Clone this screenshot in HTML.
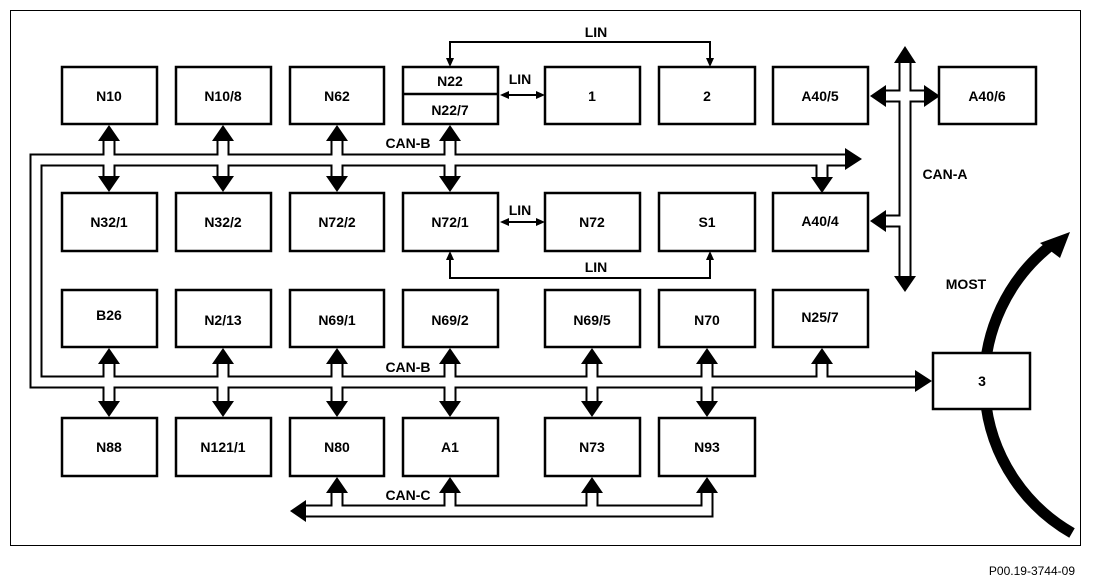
<!DOCTYPE html>
<html><head><meta charset="utf-8"><style>
html,body{margin:0;padding:0;background:#fff;}
svg{display:block;}
text{font-family:"Liberation Sans",Arial,sans-serif;font-weight:bold;font-size:14px;}
</style></head><body>
<svg width="1093" height="585" viewBox="0 0 1093 585" xmlns="http://www.w3.org/2000/svg">
<rect x="10.5" y="10.5" width="1070" height="535" fill="#fff" stroke="#000" stroke-width="1"/>
<!-- MOST arc -->
<path d="M1072 533 A174 174 0 0 1 1050 246" fill="none" stroke="#000" stroke-width="11"/>
<polygon points="1070,232 1040,243 1060,258" fill="#000"/>
<!-- boxes -->
<g fill="#fff" stroke="#000" stroke-width="2.5">
<rect x="62" y="67" width="95" height="57"/><rect x="176" y="67" width="95" height="57"/>
<rect x="290" y="67" width="94" height="57"/><rect x="403" y="67" width="95" height="57"/>
<rect x="545" y="67" width="95" height="57"/><rect x="659" y="67" width="96" height="57"/>
<rect x="773" y="67" width="95" height="57"/><rect x="939" y="67" width="97" height="57"/>
<rect x="62" y="193" width="95" height="58"/><rect x="176" y="193" width="95" height="58"/>
<rect x="290" y="193" width="94" height="58"/><rect x="403" y="193" width="95" height="58"/>
<rect x="545" y="193" width="95" height="58"/><rect x="659" y="193" width="96" height="58"/>
<rect x="773" y="193" width="95" height="58"/>
<rect x="62" y="290" width="95" height="57"/><rect x="176" y="290" width="95" height="57"/>
<rect x="290" y="290" width="94" height="57"/><rect x="403" y="290" width="95" height="57"/>
<rect x="545" y="290" width="95" height="57"/><rect x="659" y="290" width="96" height="57"/>
<rect x="773" y="290" width="95" height="57"/>
<rect x="62" y="418" width="95" height="58"/><rect x="176" y="418" width="95" height="58"/>
<rect x="290" y="418" width="94" height="58"/><rect x="403" y="418" width="95" height="58"/>
<rect x="545" y="418" width="95" height="58"/><rect x="659" y="418" width="96" height="58"/>
<rect x="933" y="353" width="97" height="56"/>
</g>
<line x1="403" y1="94" x2="498" y2="94" stroke="#000" stroke-width="2.5"/>
<!-- buses: black then white -->
<g fill="none" stroke="#000" stroke-width="13" stroke-linejoin="miter" stroke-linecap="butt">
<path d="M845 160 H36 V382 H918"/>
<path d="M109 138 V180 M223 138 V180 M337 138 V180 M450 138 V180"/>
<path d="M109 362 V404 M223 362 V404 M337 362 V404 M450 362 V404 M592 362 V404 M707 362 V404 M822 362 V382"/>
<path d="M822 160 V180"/>
<path d="M305 511 H707 V490 M337 490 V511 M450 490 V511 M592 490 V511"/>
<path d="M905 62 V278 M885 96 H925 M885 221 H905"/>
</g>
<g fill="none" stroke="#fff" stroke-width="9" stroke-linejoin="miter" stroke-linecap="butt">
<path d="M846 160 H36 V382 H919"/>
<path d="M109 136 V182 M223 136 V182 M337 136 V182 M450 136 V182"/>
<path d="M109 360 V406 M223 360 V406 M337 360 V406 M450 360 V406 M592 360 V406 M707 360 V406 M822 360 V382"/>
<path d="M822 160 V182"/>
<path d="M302 511 H707 V488 M337 488 V511 M450 488 V511 M592 488 V511"/>
<path d="M905 60 V280 M883 96 H927 M883 221 H905"/>
</g>
<!-- arrowheads -->
<g fill="#000">
<polygon points="862,159 845,148 845,170"/>
<polygon points="932,381 915,370 915,392"/>
<polygon points="822,193 811,177 833,177"/>
<polygon points="290,511 306,500 306,522"/>
<polygon points="905,46 894,63 916,63"/>
<polygon points="905,292 894,276 916,276"/>
<polygon points="870,96 886,85 886,107"/>
<polygon points="940,96 924,85 924,107"/>
<polygon points="870,221 886,210 886,232"/>
<polygon points="109,125 98,141 120,141"/><polygon points="109,192 98,176 120,176"/>
<polygon points="223,125 212,141 234,141"/><polygon points="223,192 212,176 234,176"/>
<polygon points="337,125 326,141 348,141"/><polygon points="337,192 326,176 348,176"/>
<polygon points="450,125 439,141 461,141"/><polygon points="450,192 439,176 461,176"/>
<polygon points="109,348 98,364 120,364"/><polygon points="109,417 98,401 120,401"/>
<polygon points="223,348 212,364 234,364"/><polygon points="223,417 212,401 234,401"/>
<polygon points="337,348 326,364 348,364"/><polygon points="337,417 326,401 348,401"/>
<polygon points="450,348 439,364 461,364"/><polygon points="450,417 439,401 461,401"/>
<polygon points="592,348 581,364 603,364"/><polygon points="592,417 581,401 603,401"/>
<polygon points="707,348 696,364 718,364"/><polygon points="707,417 696,401 718,401"/>
<polygon points="822,348 811,364 833,364"/>
<polygon points="337,477 326,493 348,493"/>
<polygon points="450,477 439,493 461,493"/>
<polygon points="592,477 581,493 603,493"/>
<polygon points="707,477 696,493 718,493"/>
</g>
<!-- LIN lines -->
<g fill="none" stroke="#000" stroke-width="2">
<path d="M450 60 V42 H710 V60"/>
<path d="M450 258 V278 H710 V258"/>
<path d="M507 95 H538 M507 222 H538"/>
</g>
<g fill="#000">
<polygon points="450,67 446,58 454,58"/><polygon points="710,67 706,58 714,58"/>
<polygon points="450,251 446,260 454,260"/><polygon points="710,251 706,260 714,260"/>
<polygon points="500,95 509,91 509,99"/><polygon points="545,95 536,91 536,99"/>
<polygon points="500,222 509,218 509,226"/><polygon points="545,222 536,218 536,226"/>
</g>
<g text-anchor="middle">
<text x="109" y="101">N10</text><text x="223" y="101">N10/8</text><text x="337" y="101">N62</text>
<text x="450" y="86">N22</text><text x="450" y="115">N22/7</text>
<text x="592" y="101">1</text><text x="707" y="101">2</text><text x="820" y="101">A40/5</text><text x="987" y="101">A40/6</text>
<text x="109" y="227">N32/1</text><text x="223" y="227">N32/2</text><text x="337" y="227">N72/2</text><text x="450" y="227">N72/1</text>
<text x="592" y="227">N72</text><text x="707" y="227">S1</text><text x="820" y="226">A40/4</text>
<text x="109" y="320">B26</text><text x="223" y="325">N2/13</text><text x="337" y="325">N69/1</text><text x="450" y="325">N69/2</text>
<text x="592" y="325">N69/5</text><text x="707" y="325">N70</text><text x="820" y="322">N25/7</text>
<text x="109" y="452">N88</text><text x="223" y="452">N121/1</text><text x="337" y="452">N80</text><text x="450" y="452">A1</text>
<text x="592" y="452">N73</text><text x="707" y="452">N93</text>
<text x="982" y="386">3</text>
<text x="596" y="37">LIN</text><text x="520" y="84">LIN</text><text x="520" y="215">LIN</text><text x="596" y="272">LIN</text>
<text x="408" y="148">CAN-B</text><text x="408" y="372">CAN-B</text><text x="408" y="500">CAN-C</text>
<text x="945" y="179">CAN-A</text><text x="966" y="289">MOST</text>
</g>
<text x="1075" y="575" text-anchor="end" style="font-weight:normal;font-size:12px">P00.19-3744-09</text>
</svg>
</body></html>
